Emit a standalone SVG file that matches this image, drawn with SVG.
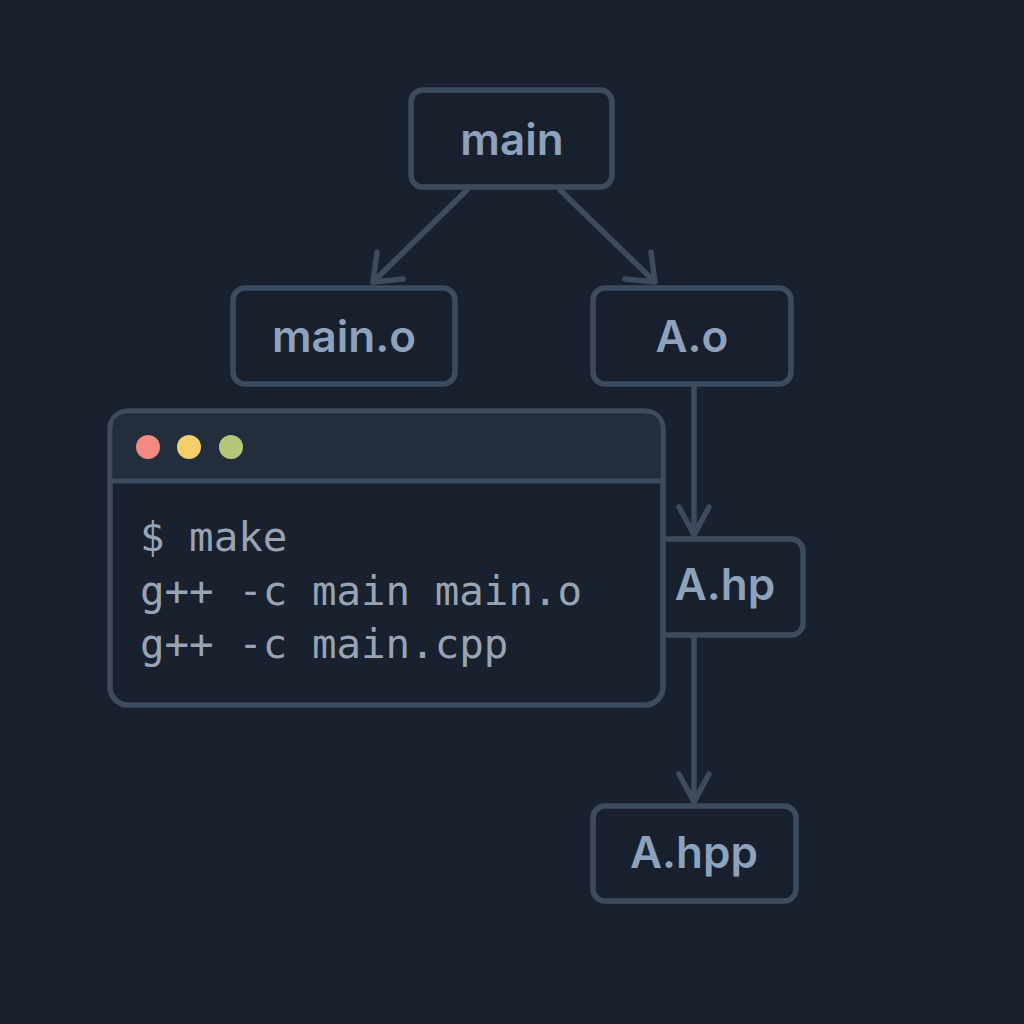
<svg xmlns="http://www.w3.org/2000/svg" width="1024" height="1024" viewBox="0 0 1024 1024">
<style>
.bg{fill:#19212f}
.node{fill:#18202e;stroke:#3d4b5d;stroke-width:5.5}
.lbl{font-family:Inter,"Open Sans","Liberation Sans",sans-serif;font-weight:600;font-size:44px;fill:#8ea2bc;text-anchor:middle}
.edge{fill:none;stroke:#3d4b5d;stroke-width:5.5;stroke-linecap:round;stroke-linejoin:round}
.term{font-family:"DejaVu Sans Mono","Liberation Mono",monospace;font-size:40.8px;fill:#99a4b3}
</style>
<rect class="bg" x="0" y="0" width="1024" height="1024"/>
<g id="connectors">
<path class="edge" d="M467 190 L373 282 M377 252 L373 282 L403 279"/>
<path class="edge" d="M560 190 L655 282 M651 252 L655 282 L625 279"/>
<path class="edge" d="M694 386 L694 535 M679 507 L694 535 L709 507"/>
<path class="edge" d="M694 637 L694 802 M679 774 L694 802 L709 774"/>
</g>
<g id="node-main">
<rect class="node" x="411" y="90" width="201" height="97" rx="12"/>
<text class="lbl" x="512" y="155">main</text>
</g>
<g id="node-main-o">
<rect class="node" x="233" y="288" width="222" height="96" rx="12"/>
<text class="lbl" x="344" y="352">main.o</text>
</g>
<g id="node-A-o">
<rect class="node" x="593" y="288" width="198" height="96" rx="12"/>
<text class="lbl" x="692" y="352">A.o</text>
</g>
<g id="node-A-hp">
<rect class="node" x="620" y="539" width="183" height="96" rx="12"/>
<text class="lbl" x="725" y="600">A.hp</text>
</g>
<g id="node-A-hpp">
<rect class="node" x="593" y="806" width="203" height="95" rx="12"/>
<text class="lbl" x="694" y="868">A.hpp</text>
</g>
<g id="terminal">
<rect x="110" y="411" width="553" height="294" rx="18" fill="#19212f" stroke="#3d4b5d" stroke-width="5.5"/>
<path d="M112.5 481 L112.5 429 Q112.5 413.5 128 413.5 L645 413.5 Q660.5 413.5 660.5 429 L660.5 481 Z" fill="#232d3c"/>
<line x1="112" y1="481" x2="661" y2="481" stroke="#3d4b5d" stroke-width="5"/>
<circle cx="148" cy="447" r="12" fill="#f28a80"/>
<circle cx="189" cy="447" r="12" fill="#f4cf6a"/>
<circle cx="231" cy="447" r="12" fill="#b6c77c"/>
<text class="term" x="140" y="551">$ make</text>
<text class="term" x="140" y="605">g++ -c main main.o</text>
<text class="term" x="140" y="658">g++ -c main.cpp</text>
</g>
</svg>
